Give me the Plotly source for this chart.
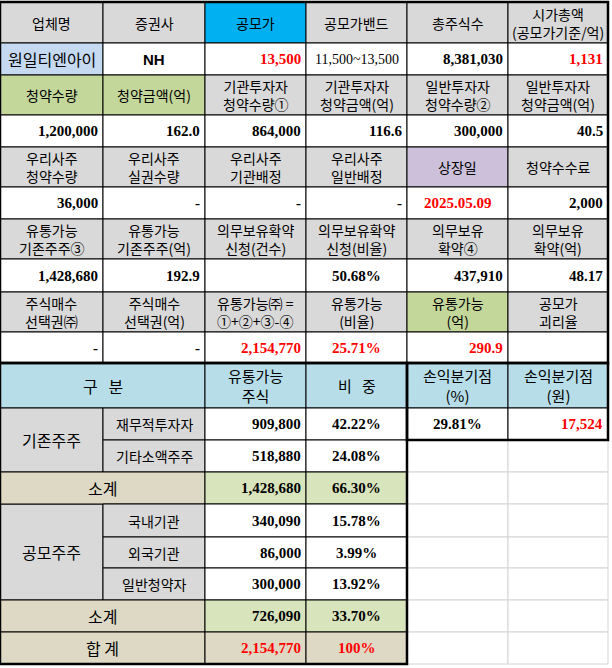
import plotly.graph_objects as go

# ---- data ----
col_x = [0, 103, 205, 306, 407, 508, 608]
row_y = [2, 43, 75, 115, 147, 187, 219, 259, 292, 332, 363]

top_headers = [
    ["업체명", "증권사", "공모가", "공모가밴드", "총주식수", "시가총액<br>(공모가기준/억)"],
    ["청약수량", "청약금액(억)", "기관투자자<br>청약수량①", "기관투자자<br>청약금액(억)", "일반투자자<br>청약수량②", "일반투자자<br>청약금액(억)"],
    ["우리사주<br>청약수량", "우리사주<br>실권수량", "우리사주<br>기관배정", "우리사주<br>일반배정", "상장일", "청약수수료"],
    ["유통가능<br>기존주주③", "유통가능<br>기존주주(억)", "의무보유확약<br>신청(건수)", "의무보유확약<br>신청(비율)", "의무보유<br>확약④", "의무보유<br>확약(억)"],
    ["주식매수<br>선택권㈜", "주식매수<br>선택권(억)", "유통가능㈜ =<br>①+②+③-④", "유통가능<br>(비율)", "유통가능<br>(억)", "공모가<br>괴리율"],
]
top_values = [
    ["원일티엔아이", "NH", "13,500", "11,500~13,500", "8,381,030", "1,131"],
    ["1,200,000", "162.0", "864,000", "116.6", "300,000", "40.5"],
    ["36,000", "-", "-", "-", "2025.05.09", "2,000"],
    ["1,428,680", "192.9", "", "50.68%", "437,910", "48.17"],
    ["-", "-", "2,154,770", "25.71%", "290.9", ""],
]

bot_rows_y = [363, 408, 440, 472, 504, 537, 568, 600, 632, 664]
bot_header = ["구   분", "유통가능<br>주식", "비   중", "손익분기점<br>(%)", "손익분기점<br>(원)"]
bot_groups = ["기존주주", "공모주주"]
bot_labels = ["재무적투자자", "기타소액주주", "소계", "국내기관", "외국기관", "일반청약자", "소계", "합 계"]
bot_shares = ["909,800", "518,880", "1,428,680", "340,090", "86,000", "300,000", "726,090", "2,154,770"]
bot_ratio = ["42.22%", "24.08%", "66.30%", "15.78%", "3.99%", "13.92%", "33.70%", "100%"]
breakeven = ["29.81%", "17,524"]

# ---- styles ----
GRAY, BLUE, LBLUE, GREEN, LAV = "#d9d9d9", "#00b0f0", "#c5d9f1", "#c4d79b", "#ccc0da"
HBLUE, TAN, LGREEN, RED = "#b7dee8", "#ddd9c4", "#d8e4bc", "#ff0000"
KR = "Noto Sans CJK KR"
NUM = "Liberation Serif"

hdr_fill = {(0, 2): BLUE, (1, 0): GREEN, (1, 1): GREEN, (2, 4): LAV, (4, 4): GREEN}
red_vals = {(0, 2), (0, 5), (2, 4), (4, 2), (4, 3), (4, 4)}
center_vals = {(0, 0), (0, 1), (0, 3), (2, 4), (3, 3), (4, 3)}

fig = go.Figure()
shapes, annos = [], []


def cell(x0, x1, y0, y1, fill="white", line="#000", width=1):
    shapes.append(dict(type="rect", x0=x0, x1=x1, y0=y0, y1=y1, fillcolor=fill,
                       line=dict(color=line, width=width), layer="below"))


def text(x0, x1, y0, y1, s, align="center", font=KR, size=14, color="#000", bold=False):
    if bold:
        s = f"<b>{s}</b>"
    if align == "right":
        x, xa = x1 - 3, "right"
    else:
        x, xa = (x0 + x1) / 2, "center"
    annos.append(dict(x=x, y=(y0 + y1) / 2, text=s, xanchor=xa, yanchor="middle", showarrow=False,
                      font=dict(family=font, size=size, color=color)))


# empty excel grid on the right of the lower table
for i in range(2, len(bot_rows_y) - 1):
    for c in (4, 5):
        cell(col_x[c], col_x[c + 1], bot_rows_y[i], bot_rows_y[i + 1], line="#d4d4d4")

# top block
for r in range(5):
    ya, yb = row_y[2 * r], row_y[2 * r + 1]
    yc = row_y[2 * r + 2]
    for c in range(6):
        xa, xb = col_x[c], col_x[c + 1]
        cell(xa, xb, ya, yb, hdr_fill.get((r, c), GRAY))
        text(xa, xb, ya, yb, top_headers[r][c], size=14)
        v = top_values[r][c]
        fill = LBLUE if (r, c) == (0, 0) else "white"
        cell(xa, xb, yb, yc, fill)
        if (r, c) == (0, 0):
            text(xa, xb, yb, yc, v, size=16)
        elif (r, c) == (0, 1):
            text(xa, xb, yb, yc, v, font="Liberation Sans", size=15, bold=True)
        elif (r, c) == (0, 3):
            text(xa, xb, yb, yc, v, font=NUM, size=14)
        else:
            text(xa, xb, yb, yc, v, align="center" if (r, c) in center_vals else "right",
                 font=NUM, size=15, bold=True, color=RED if (r, c) in red_vals else "#000")

# lower table header
by = bot_rows_y
cell(col_x[0], col_x[2], by[0], by[1], HBLUE)
text(col_x[0], col_x[2], by[0], by[1], bot_header[0], size=16)
for k in range(1, 5):
    cell(col_x[k + 1], col_x[k + 2], by[0], by[1], HBLUE)
    text(col_x[k + 1], col_x[k + 2], by[0], by[1], bot_header[k], size=15)

# group label cells
cell(col_x[0], col_x[1], by[1], by[3], GRAY)
text(col_x[0], col_x[1], by[1], by[3], bot_groups[0], size=16)
cell(col_x[0], col_x[1], by[4], by[7], GRAY)
text(col_x[0], col_x[1], by[4], by[7], bot_groups[1], size=16)

for i, lab in enumerate(bot_labels):
    y0, y1 = by[i + 1], by[i + 2]
    subtotal = lab in ("소계", "합 계")
    if subtotal:
        cell(col_x[0], col_x[2], y0, y1, TAN)
        text(col_x[0], col_x[2], y0, y1, lab, size=16)
        fill = TAN if lab == "합 계" else LGREEN
    else:
        cell(col_x[1], col_x[2], y0, y1, GRAY)
        text(col_x[1], col_x[2], y0, y1, lab, size=14)
        fill = "white"
    color = RED if lab == "합 계" else "#000"
    cell(col_x[2], col_x[3], y0, y1, fill)
    text(col_x[2], col_x[3], y0, y1, bot_shares[i], align="right", font=NUM, size=15, bold=True, color=color)
    cell(col_x[3], col_x[4], y0, y1, fill)
    text(col_x[3], col_x[4], y0, y1, bot_ratio[i], font=NUM, size=15, bold=True, color=color)

# break-even box
cell(col_x[4], col_x[5], by[1], by[2])
text(col_x[4], col_x[5], by[1], by[2], breakeven[0], font=NUM, size=15, bold=True)
cell(col_x[5], col_x[6], by[1], by[2])
text(col_x[5], col_x[6], by[1], by[2], breakeven[1], align="right", font=NUM, size=15, bold=True, color=RED)

# thick outer borders
for x0, x1, y0, y1 in [(0, 608, 2, 363), (0, 407, 363, 664), (407, 608, 363, 440)]:
    shapes.append(dict(type="rect", x0=x0, x1=x1, y0=y0, y1=y1, line=dict(color="#000", width=2.5)))

fig.update_layout(
    width=612, height=668, margin=dict(l=0, r=0, t=0, b=0),
    paper_bgcolor="white", plot_bgcolor="white",
    xaxis=dict(range=[0, 612], visible=False, fixedrange=True),
    yaxis=dict(range=[668, 0], visible=False, fixedrange=True),
    shapes=shapes, annotations=annos, showlegend=False,
)
fig.write_html("out.html", config=dict(displayModeBar=False),
               post_script="document.body.style.margin='0';document.body.style.overflow='hidden';")
